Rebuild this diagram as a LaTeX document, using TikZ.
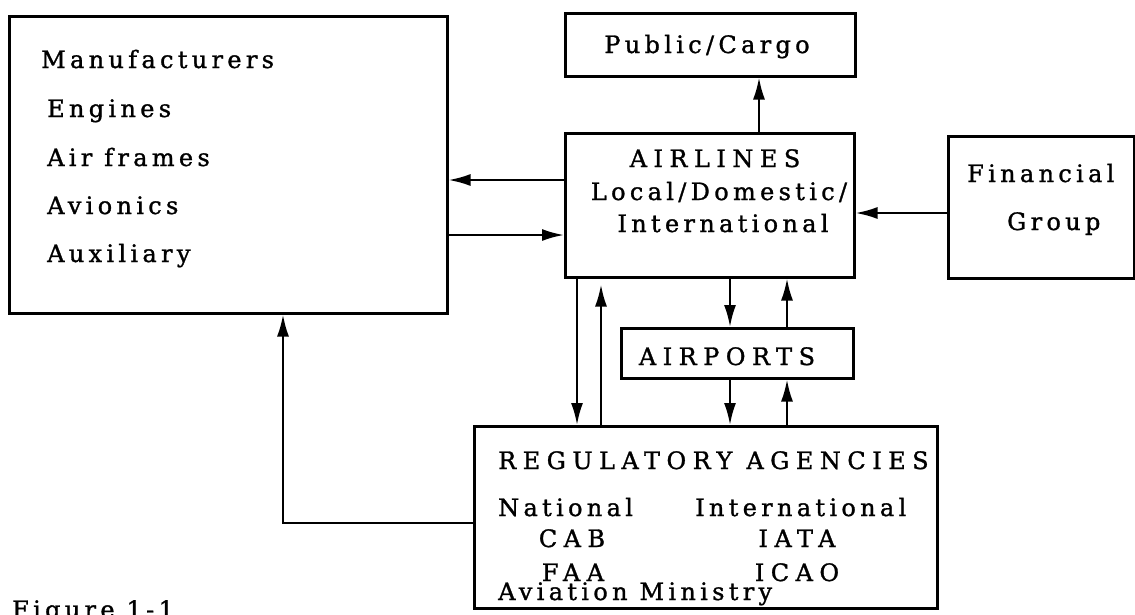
\documentclass[tikz,border=0pt]{standalone}
\usepackage{fontspec}
\setmainfont{DejaVu Serif}[LetterSpace=18,FakeBold=1.2]
\usetikzlibrary{arrows.meta}
\begin{document}
\begin{tikzpicture}[x=1pt,y=-1pt,
  box/.style={draw,line width=2.5pt,rectangle,inner sep=0pt,anchor=north west},
  lbl/.style={inner sep=0pt,font=\fontsize{24}{28}\selectfont},
  wide/.style={lbl,font=\fontsize{24}{28}\selectfont\addfontfeature{LetterSpace=27}},
  link/.style={line width=2.3pt,-{Latex[length=22pt,width=12pt]}}]
\useasboundingbox (0,0) rectangle (1135,614);
\clip (0,0) rectangle (1135,614);
% boxes
\node[box,minimum width=438pt,minimum height=297pt] (man) at (8,15) {};
\node[box,minimum width=290pt,minimum height=63pt] (pub) at (564,12) {};
\node[box,minimum width=289pt,minimum height=144pt] (air) at (564,132) {};
\node[box,minimum width=186pt,minimum height=142pt] (fin) at (947,135) {};
\node[box,minimum width=232pt,minimum height=50pt] (apt) at (620,327) {};
\node[box,minimum width=463pt,minimum height=182pt] (reg) at (473,425) {};
% texts
\node[lbl,anchor=base west] (t1) at (41,68) {Manufacturers};
\node[lbl,anchor=base west] (t2) at (47,117) {Engines};
\node[lbl,anchor=base west] (t3) at (47,166) {Air frames};
\node[lbl,anchor=base west] (t4) at (47,214) {Avionics};
\node[lbl,anchor=base west] (t5) at (47,262) {Auxiliary};
\node[lbl,anchor=base] (t6) at (707,53) {Public/Cargo};
\node[wide,anchor=base] (t7) at (715,167) {AIRLINES};
\node[lbl,anchor=base] (t8) at (719,200) {Local/Domestic/};
\node[lbl,anchor=base] (t9) at (723,232) {International};
\node[lbl,anchor=base west] (t10) at (967,182) {Financial};
\node[lbl,anchor=base west] (t11) at (1007,230) {Group};
\node[wide,anchor=base] (t12) at (727,365) {AIRPORTS};
\node[wide,anchor=base west] (t13) at (498,469) {REGULATORY AGENCIES};
\node[lbl,anchor=base west] (t14) at (498,516) {National};
\node[lbl,anchor=base west] (t15) at (695,516) {International};
\node[wide,anchor=base] (t16) at (572,547) {CAB};
\node[wide,anchor=base] (t17) at (797,547) {IATA};
\node[wide,anchor=base] (t18) at (573,581) {FAA};
\node[wide,anchor=base] (t19) at (797,581) {ICAO};
\node[lbl,anchor=base west] (t20) at (498,600) {Aviation Ministry};
\node[lbl,anchor=base west] (t21) at (12,618) {Figure 1-1};
% rows and columns of the connectors
\coordinate (r1) at (0,180);
\coordinate (r2) at (0,235);
\coordinate (r3) at (0,213);
\coordinate (r4) at (0,523);
\coordinate (c1) at (577,0);
\coordinate (c2) at (601,0);
\coordinate (c3) at (730,0);
\coordinate (c4) at (787,0);
\coordinate (c5) at (759,0);
\coordinate (c6) at (283,0);
% connectors
\draw[link] (air.west |- r1) -- (man.east |- r1);
\draw[link] (man.east |- r2) -- (air.west |- r2);
\draw[link] (fin.west |- r3) -- (air.east |- r3);
\draw[link] (air.north -| c5) -- (pub.south -| c5);
\draw[link] (air.south -| c1) -- (reg.north -| c1);
\draw[link,shorten >=6pt] (reg.north -| c2) -- (air.south -| c2);
\draw[link] (air.south -| c3) -- (apt.north -| c3);
\draw[link] (apt.north -| c4) -- (air.south -| c4);
\draw[link] (apt.south -| c3) -- (reg.north -| c3);
\draw[link] (reg.north -| c4) -- (apt.south -| c4);
\draw[link] (reg.west |- r4) -| (man.south -| c6);
\end{tikzpicture}
\end{document}
